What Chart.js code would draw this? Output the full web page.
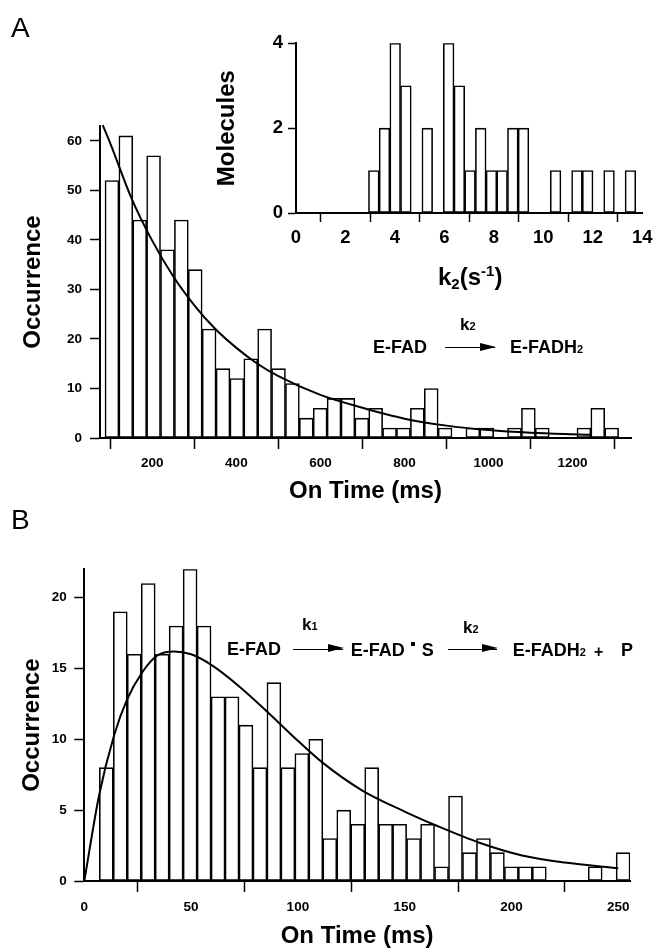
<!DOCTYPE html>
<html>
<head>
<meta charset="utf-8">
<script src="https://cdn.jsdelivr.net/npm/chart.js@4.4.1/dist/chart.umd.min.js"></script>
<style>
  html, body { margin:0; padding:0; background:#fff; }
  #wrap { position:relative; width:657px; height:948px; overflow:hidden; font-family:'Liberation Sans', Arial, Helvetica, sans-serif; color:#000; }
  canvas { position:absolute; }
  .t { position:absolute; white-space:nowrap; font-weight:bold; line-height:1; }
  .s2 { font-size:11px; }
  .arrow { position:absolute; height:0; border-top:1.6px solid #000; }
  .arrow::after { content:''; position:absolute; right:-1px; top:-5.3px; border-left:16px solid #000; border-top:4.5px solid transparent; border-bottom:4.5px solid transparent; }
  .dot { display:inline-block; width:4px; height:4px; background:#000; vertical-align:9.5px; margin:0 7px 0 6px; }
</style>
</head>
<body>
<div id="wrap">
  <canvas id="chartA" width="657" height="520" style="left:0;top:0"></canvas>
  <canvas id="chartIns" width="457" height="300" style="left:200px;top:0"></canvas>
  <canvas id="chartB" width="657" height="428" style="left:0;top:520px"></canvas>

  <!-- panel letters -->
  <div class="t" style="left:11px;top:14px;font-size:28px;font-weight:normal">A</div>
  <div class="t" style="left:11px;top:506px;font-size:28px;font-weight:normal">B</div>

  <!-- inset x title -->
  <div class="t" style="left:438px;top:263px;font-size:24px">k<span style="font-size:15px;vertical-align:-4px">2</span>(s<span style="font-size:15px;vertical-align:9px">-1</span>)</div>

  <!-- scheme A -->
  <div class="t" style="left:460px;top:315.6px;font-size:17px">k<span class="s2">2</span></div>
  <div class="t" style="left:373px;top:338px;font-size:18px">E-FAD</div>
  <div class="arrow" style="left:445px;top:347px;width:50px"></div>
  <div class="t" style="left:510px;top:338px;font-size:18px">E-FADH<span class="s2">2</span></div>

  <!-- scheme B -->
  <div class="t" style="left:302px;top:616.3px;font-size:17px">k<span class="s2">1</span></div>
  <div class="t" style="left:227px;top:639.8px;font-size:18px">E-FAD</div>
  <div class="arrow" style="left:293px;top:648.7px;width:50px"></div>
  <div class="t" style="left:350.7px;top:640.8px;font-size:18px">E-FAD<span class="dot"></span>S</div>
  <div class="t" style="left:463px;top:619px;font-size:17px">k<span class="s2">2</span></div>
  <div class="arrow" style="left:448px;top:648.5px;width:49px"></div>
  <div class="t" style="left:512.7px;top:640.8px;font-size:18px">E-FADH<span class="s2">2</span></div>
  <div class="t" style="left:594px;top:643.8px;font-size:16px">+</div>
  <div class="t" style="left:621px;top:640.8px;font-size:18px">P</div>
</div>

<script>
const FONT = "'Liberation Sans', Arial, Helvetica, sans-serif";

// ── Panel A: on-time histogram, E-FAD -> E-FADH2 ──────────────────
const aBinStart = 87.4, aBinWidth = 33.03;   // ms
const aCounts = [52, 61, 44, 57, 38, 44, 34, 22, 14, 12, 16, 22, 14, 11, 4, 6, 8, 8, 4, 6,
                 2, 2, 6, 10, 2, 0, 2, 2, 0, 2, 6, 2, 0, 0, 2, 6, 2];
const aFitX = [82, 100, 150, 200, 250, 300, 350, 400, 450, 500, 600, 700, 800, 900, 1000, 1100, 1200, 1245];
const aFitY = [63.2, 59.5, 48.5, 39.8, 32.6, 26.8, 22.0, 18.2, 15.0, 12.5, 8.7, 6.1, 3.9, 2.5, 1.6, 1.05, 0.75, 0.65];
const aXTicks = [200, 400, 600, 800, 1000, 1200];
const aYTicks = [0, 10, 20, 30, 40, 50, 60];

// ── Inset: k2 distribution ───────────────────────────────────────
const insBinStart = 2.93, insBinWidth = 0.4324;   // s^-1
const insCounts = [1, 2, 4, 3, 0, 2, 0, 4, 3, 1, 2, 1, 1, 2, 2, 0, 0, 1, 0, 1, 1, 0, 1, 0, 1];
const insXTicks = [0, 2, 4, 6, 8, 10, 12, 14];
const insYTicks = [0, 2, 4];

// ── Panel B: on-time histogram, two-step scheme ──────────────────
const bBinStart = 7.03, bBinWidth = 6.54;   // ms
const bCounts = [8, 19, 16, 21, 16, 18, 22, 18, 13, 13, 11, 8, 14, 8, 9, 10, 3, 5, 4, 8,
                 4, 4, 3, 4, 1, 6, 2, 3, 2, 1, 1, 1, 0, 0, 0, 1, 0, 2];
const bFitX = [0, 7, 14, 20, 27, 34, 42, 50, 60, 72, 86, 100, 112, 130, 150, 165, 185, 205, 225, 250];
const bFitY = [0, 6.1, 10.3, 12.8, 14.7, 15.9, 16.2, 16.0, 15.2, 13.8, 11.9, 9.9, 8.3, 6.4, 4.9, 3.9, 2.7, 1.8, 1.3, 0.9];
const bXTicks = [0, 50, 100, 150, 200, 250];
const bYTicks = [0, 5, 10, 15, 20];

function binPoints(start, width, counts) {
  return counts.map((c, i) => ({ x: start + width * (i + 0.5), y: c }));
}
function fitPoints(xs, ys) {
  return xs.map((x, i) => ({ x, y: ys[i] }));
}

function scale(o) {
  return {
    type: 'linear',
    position: o.axis === 'x' ? 'bottom' : 'left',
    min: o.min, max: o.max,
    offset: false,
    afterBuildTicks: s => { s.ticks = o.ticks.map(v => ({ value: v })); },
    afterFit: s => { if (o.axis === 'x') s.height = o.size; else s.width = o.size; },
    border: { display: true, color: '#000', width: 2 },
    grid: { drawOnChartArea: false, drawTicks: true, tickLength: o.tl, tickColor: '#000', tickWidth: 1.5 },
    ticks: { padding: o.pad, color: '#000', autoSkip: false, maxRotation: 0,
             font: { family: FONT, size: o.fs, weight: 'bold' }, callback: v => String(v) },
    title: o.title
      ? { display: true, text: o.title, color: '#000', padding: o.tpad,
          font: { family: FONT, size: 24, weight: 'bold', lineHeight: 1 } }
      : { display: false }
  };
}

function histChart(id, bins, fit, pad, xs, ys) {
  const datasets = [{
    type: 'bar', data: bins, order: 2,
    backgroundColor: '#fff', borderColor: '#000', borderWidth: 1.6, borderSkipped: false,
    barPercentage: 1, categoryPercentage: 1
  }];
  if (fit) datasets.push({
    type: 'line', data: fit, order: 1, clip: false,
    borderColor: '#000', borderWidth: 2, pointRadius: 0, fill: false, cubicInterpolationMode: 'monotone'
  });
  return new Chart(document.getElementById(id), {
    type: 'bar',
    data: { datasets },
    options: {
      responsive: false, animation: false, devicePixelRatio: 1,
      layout: { padding: pad },
      plugins: { legend: { display: false }, tooltip: { enabled: false } },
      scales: { x: scale(xs), y: scale(ys) }
    }
  });
}

histChart('chartA',
  binPoints(aBinStart, aBinWidth, aCounts), fitPoints(aFitX, aFitY),
  { left: 0, top: 126, right: 26, bottom: 0 },
  { axis: 'x', min: 75.5, max: 1339, ticks: aXTicks, size: 82, tl: 11, pad: 6.5, fs: 13.5,
    title: 'On Time (ms)', tpad: { top: 0, bottom: 16.5 } },
  { axis: 'y', min: 0, max: 63, ticks: aYTicks, size: 100, tl: 10, pad: 8, fs: 13.5,
    title: 'Occurrence', tpad: { top: 21, bottom: 0 } });

histChart('chartIns',
  binPoints(insBinStart, insBinWidth, insCounts), null,
  { left: 0, top: 43.3, right: 11.3, bottom: 0 },
  { axis: 'x', min: 0, max: 14, ticks: insXTicks, size: 87, tl: 9, pad: 4.5, fs: 18.5 },
  { axis: 'y', min: 0, max: 4, ticks: insYTicks, size: 96, tl: 8, pad: 5, fs: 18.5,
    title: 'Molecules', tpad: { top: 15.5, bottom: 0 } });

histChart('chartB',
  binPoints(bBinStart, bBinWidth, bCounts), fitPoints(bFitX, bFitY),
  { left: 0, top: 49.3, right: 27, bottom: 0 },
  { axis: 'x', min: 0, max: 255.5, ticks: bXTicks, size: 67, tl: 11, pad: 7.5, fs: 13.5,
    title: 'On Time (ms)', tpad: { top: 0, bottom: 0 } },
  { axis: 'y', min: 0, max: 22, ticks: bYTicks, size: 84.3, tl: 10, pad: 7.5, fs: 13.5,
    title: 'Occurrence', tpad: { top: 20, bottom: 0 } });
</script>
</body>
</html>
